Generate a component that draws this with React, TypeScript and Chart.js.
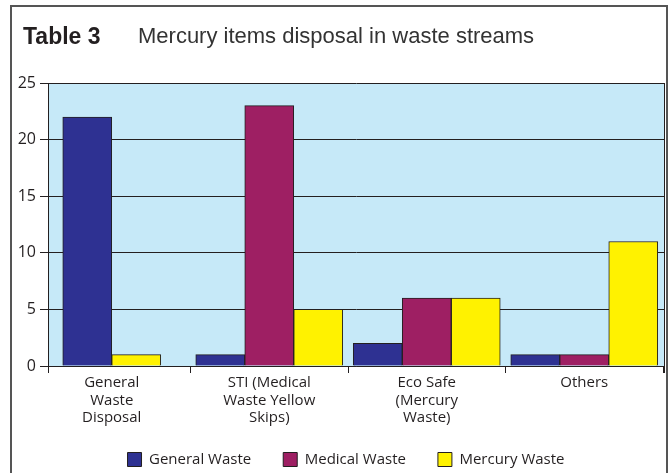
import React, { useEffect, useRef } from "react";
import { Chart, registerables } from "chart.js";

Chart.register(...registerables);

const categories: string[][] = [
  ["General", "Waste", "Disposal"],
  ["STI (Medical", "Waste Yellow", "Skips)"],
  ["Eco Safe", "(Mercury", "Waste)"],
  ["Others"],
];
const generalWaste: (number | null)[] = [22, 1, 2, 1];
const medicalWaste: (number | null)[] = [null, 23, 6, 1];
const mercuryWaste: (number | null)[] = [1, 5, 6, 11];
const yTicks = { min: 0, max: 25, step: 5 };

const INK = "#231f20";
const FONT = "'Open Sans', 'Noto Sans', sans-serif";

const plotFrame = {
  id: "plotFrame",
  afterLayout(chart: any) {
    const lg = chart.legend;
    if (lg) {
      lg.top -= 8;
      lg.left += 14;
      lg.right += 14;
    }
    // the source chart's category band starts left of the value axis
    const x = chart.scales.x;
    if (x) {
      const start = x.left - 15;
      const end = x.right - 1;
      x._startPixel = start;
      x._endPixel = end;
      x._length = end - start;
    }
  },
  beforeDraw(chart: any) {
    const { ctx, chartArea } = chart;
    ctx.save();
    ctx.fillStyle = "#c6e9f8";
    ctx.fillRect(chartArea.left, chartArea.top, chartArea.right - chartArea.left, chartArea.bottom - chartArea.top);
    ctx.restore();
  },
  afterDraw(chart: any) {
    const { ctx, chartArea } = chart;
    ctx.save();
    ctx.strokeStyle = INK;
    ctx.lineWidth = 1;
    ctx.beginPath();
    ctx.moveTo(Math.round(chartArea.right) + 0.5, chartArea.top);
    ctx.lineTo(Math.round(chartArea.right) + 0.5, chartArea.bottom + 7);
    ctx.moveTo(Math.round(chartArea.left) + 0.5, chartArea.bottom);
    ctx.lineTo(Math.round(chartArea.left) + 0.5, chartArea.bottom + 7);
    ctx.stroke();
    ctx.restore();
  },
};

export default function App() {
  const ref = useRef<HTMLCanvasElement | null>(null);
  useEffect(() => {
    if (!ref.current) return;
    const barStyle = { borderColor: INK, borderWidth: 1, barThickness: 49, skipNull: true };
    const chart = new Chart(ref.current, {
      type: "bar",
      data: {
        labels: categories,
        datasets: [
          { label: "General Waste", data: generalWaste, backgroundColor: "#2e3192", ...barStyle },
          { label: "Medical Waste", data: medicalWaste, backgroundColor: "#9e1f63", ...barStyle },
          { label: "Mercury Waste", data: mercuryWaste, backgroundColor: "#fff200", ...barStyle },
        ],
      } as any,
      options: {
        animation: false,
        responsive: true,
        maintainAspectRatio: false,
        layout: { padding: { top: 83, right: 8, left: 0, bottom: 0 } },
        plugins: {
          title: { display: false },
          tooltip: { enabled: false },
          legend: {
            position: "bottom",
            maxHeight: 45,
            labels: {
              color: INK,
              font: { family: FONT, size: 15 },
              boxWidth: 14,
              boxHeight: 14,
              padding: 32,
              useBorderRadius: false,
            },
          } as any,
        },
        scales: {
          x: {
            grid: {
              offset: true,
              drawOnChartArea: false,
              color: (c: any) => (c.index === 0 ? "rgba(0,0,0,0)" : INK),
              tickLength: 7,
              lineWidth: 1,
            },
            border: { color: INK, width: 1 },
            ticks: {
              color: INK,
              font: { family: FONT, size: 15, lineHeight: 1.17 },
              padding: 1,
              maxRotation: 0,
              autoSkip: false,
            },
            afterFit: (s: any) => { s.height = 62; },
          },
          y: {
            min: yTicks.min,
            max: yTicks.max,
            grid: { color: INK, tickLength: 8, lineWidth: 1 },
            border: { color: INK, width: 1 },
            ticks: {
              stepSize: yTicks.step,
              color: INK,
              font: { family: FONT, size: 16 },
              padding: 4,
            },
            afterFit: (s: any) => { s.width = 48; },
          },
        },
      },
      plugins: [plotFrame],
    });
    return () => chart.destroy();
  }, []);

  return (
    <>
      <div style={{ position: "absolute", left: 0, top: 0, width: 672, height: 473 }}>
        <canvas ref={ref} />
      </div>
      <div
        style={{
          position: "absolute",
          left: 10,
          top: 5,
          width: 658,
          height: 468,
          border: "2px solid #555",
          borderBottom: "none",
          boxSizing: "border-box",
          pointerEvents: "none",
        }}
      />
      <div
        style={{
          position: "absolute",
          left: 23,
          top: 25,
          lineHeight: "22px",
          whiteSpace: "nowrap",
          fontFamily: "'Liberation Sans', Arial, sans-serif",
          color: INK,
        }}
      >
        <span style={{ fontWeight: "bold", fontSize: 23 }}>Table 3</span>
        <span style={{ position: "absolute", left: 115, top: 0, fontSize: 22, color: "#333" }}>
          Mercury items disposal in waste streams
        </span>
      </div>
    </>
  );
}
